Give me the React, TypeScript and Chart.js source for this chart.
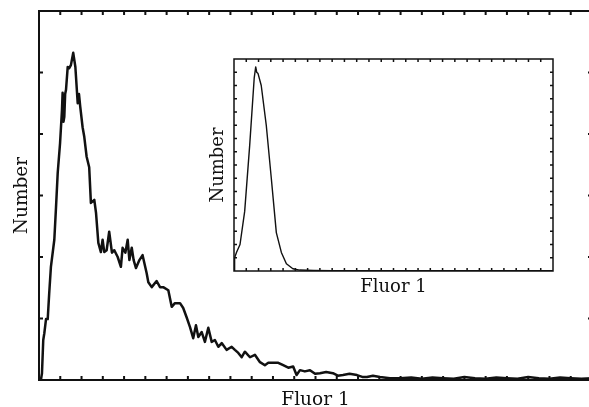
import React, { useEffect, useRef } from "react";
import { Chart, registerables } from "chart.js";

Chart.register(...registerables);

// ---- data ----
const mainFluor = [
  0, 0.9, 1.4, 2.0, 2.5, 3.3, 4.1, 4.8, 5.6, 7.2,
  8.0, 8.8, 9.9, 10.8, 11.1, 11.5, 11.9, 12.3, 12.7, 13.5,
  14.2, 15.0, 16.1, 17.1, 18.2, 18.8, 19.4, 20.5, 21.3, 22.4,
  23.6, 24.4, 26.0, 26.8, 27.9, 29.1, 29.9, 30.7, 31.8, 33.0,
  34.3, 35.4, 37.0, 38.5, 39.3, 40.6, 41.7, 42.5, 43.6, 44.5,
  45.6, 47.2, 48.7, 50.6, 51.4, 53.0, 55.3, 56.9, 58.4, 60.8,
  62.4, 63.9, 66.3, 67.8, 69.4, 71.0, 72.5, 73.8, 74.9, 76.5,
  78.0, 79.6, 81.2, 82.7, 84.3, 85.9, 88.2, 90.6, 92.1, 93.7,
  95.3, 96.8, 99.2, 101.5, 103.9, 106.2, 107.8, 110.1, 112.5, 114.8,
  117.2, 119.5, 121.1, 122.7, 125.0, 127.4, 129.8, 132.1, 135.0, 138.2,
  140.5, 142.9, 146.0, 149.5, 152.0, 154.2, 157.0, 160.3, 165.0, 169.7,
  175, 180, 185, 190, 195, 200, 205, 210, 215, 220,
  225, 230, 235, 240, 245, 250, 255, 260,
];
const mainCount = [
  0, 0, 11, 65, 76, 99, 99, 141, 184, 228,
  281, 337, 385, 439, 467, 420, 428, 465, 472, 509,
  507, 512, 532, 509, 450, 465, 444, 411, 395, 363,
  346, 288, 293, 272, 223, 208, 228, 208, 211, 241,
  207, 211, 200, 184, 215, 207, 228, 195, 215, 195,
  182, 195, 203, 174, 159, 151, 161, 151, 151, 146,
  119, 125, 125, 117, 102, 86, 68, 89, 70, 78,
  62, 85, 62, 65, 54, 60, 49, 54, 49, 44,
  37, 46, 37, 41, 29, 24, 28, 28, 28, 24,
  20, 22, 8, 16, 14, 16, 10, 11, 13, 11,
  7, 8, 10, 8, 5, 5, 7, 5, 3, 3,
  4, 2, 4, 3, 2, 5, 3, 2, 4, 3,
  2, 5, 3, 2, 4, 3, 2, 3,
];
const insetFluor = [0, 0.5, 2, 4.9, 8.7, 12.8, 16.5, 17.7, 18.5, 19.6, 22.2, 26.3, 30.4, 34.5, 38.6, 42.7, 48, 53.5, 65, 80, 100, 260];
const insetCount = [0, 10, 14, 20, 45, 95, 146, 154, 150, 149, 140, 110, 70, 29, 14, 5.5, 1.7, 0.7, 0.4, 0.3, 0.3, 0.3];

const xTicks = [0, 10, 20, 30, 40, 50, 60, 70, 80, 90, 100, 110, 120, 130, 140, 150, 160, 170, 180, 190, 200, 210, 220, 230, 240, 250, 260];
const mainYTicks = [0, 100, 200, 300, 400, 500, 600];
const insetYTicks = [0, 10, 20, 30, 40, 50, 60, 70, 80, 90, 100, 110, 120, 130, 140, 150, 160];
const xLabel = "Fluor 1";
const yLabel = "Number";

const FONT = '"DejaVu Serif", "Liberation Serif", serif';
const INK = "#111";

type FrameCfg = {
  frameWidth: number;
  tickLen: number;
  tickWidth: number;
  xTicks: number[];
  yTicks: number[];
  fontSize: number;
  xLabelBaseline: number;
  yLabelBaseline: number;
};

function framePlugin(cfg: FrameCfg) {
  return {
    id: "frame",
    afterDatasetsDraw(chart: any) {
      const { ctx, chartArea } = chart;
      const { left, top, right, bottom } = chartArea;
      const xs = chart.scales.x;
      const ys = chart.scales.y;
      ctx.save();
      ctx.strokeStyle = INK;
      ctx.lineWidth = cfg.frameWidth;
      ctx.strokeRect(left, top, right - left, bottom - top);
      ctx.lineWidth = cfg.tickWidth;
      ctx.beginPath();
      const xMin = xs.min, xMax = xs.max, yMin = ys.min, yMax = ys.max;
      cfg.xTicks.forEach((v) => {
        if (v <= xMin || v >= xMax) return;
        const px = xs.getPixelForValue(v);
        ctx.moveTo(px, top);
        ctx.lineTo(px, top + cfg.tickLen);
        ctx.moveTo(px, bottom);
        ctx.lineTo(px, bottom - cfg.tickLen);
      });
      cfg.yTicks.forEach((v) => {
        if (v <= yMin || v >= yMax) return;
        const py = ys.getPixelForValue(v);
        ctx.moveTo(left, py);
        ctx.lineTo(left + cfg.tickLen, py);
        ctx.moveTo(right, py);
        ctx.lineTo(right - cfg.tickLen, py);
      });
      ctx.stroke();

      ctx.fillStyle = INK;
      ctx.font = `${cfg.fontSize}px ${FONT}`;
      ctx.textAlign = "center";
      ctx.textBaseline = "alphabetic";
      ctx.fillText(xLabel, (left + right) / 2, cfg.xLabelBaseline);
      ctx.translate(cfg.yLabelBaseline, (top + bottom) / 2);
      ctx.rotate(-Math.PI / 2);
      ctx.fillText(yLabel, 0, 0);
      ctx.restore();
    },
  };
}

function makeChart(
  canvas: HTMLCanvasElement,
  xs: number[],
  ys: number[],
  yMax: number,
  lineWidth: number,
  padding: { left: number; top: number; right: number; bottom: number },
  cfg: FrameCfg
) {
  const data = xs.map((x, i) => ({ x, y: ys[i] }));
  return new Chart(canvas, {
    type: "line",
    data: {
      datasets: [
        {
          data,
          borderColor: INK,
          borderWidth: lineWidth,
          pointRadius: 0,
          tension: 0,
          fill: false,
          borderJoinStyle: "round",
        },
      ],
    },
    options: {
      animation: false,
      responsive: false,
      maintainAspectRatio: false,
      layout: { padding },
      plugins: { legend: { display: false }, tooltip: { enabled: false } },
      scales: {
        x: { type: "linear", min: 0, max: 260, display: false },
        y: { type: "linear", min: 0, max: yMax, display: false },
      },
    },
    plugins: [framePlugin(cfg)],
  } as any);
}

export default function App() {
  const mainRef = useRef<HTMLCanvasElement>(null);
  const insetRef = useRef<HTMLCanvasElement>(null);

  useEffect(() => {
    const main = makeChart(
      mainRef.current!,
      mainFluor,
      mainCount,
      600,
      2.5,
      { left: 39, top: 11, right: 8, bottom: 27 },
      {
        frameWidth: 2,
        tickLen: 4,
        tickWidth: 2,
        xTicks,
        yTicks: mainYTicks,
        fontSize: 18.5,
        xLabelBaseline: 405,
        yLabelBaseline: 27,
      }
    );
    const inset = makeChart(
      insetRef.current!,
      insetFluor,
      insetCount,
      160,
      1.4,
      { left: 39, top: 9, right: 7, bottom: 29 },
      {
        frameWidth: 1.5,
        tickLen: 3,
        tickWidth: 1.5,
        xTicks,
        yTicks: insetYTicks,
        fontSize: 18,
        xLabelBaseline: 242,
        yLabelBaseline: 28,
      }
    );
    return () => {
      main.destroy();
      inset.destroy();
    };
  }, []);

  return (
    <div
      style={{
        position: "absolute",
        left: 0,
        top: 0,
        width: 589,
        height: 407,
        overflow: "hidden",
        background: "#fff",
      }}
    >
      <canvas ref={mainRef} width={600} height={407} style={{ position: "absolute", left: 0, top: 0 }} />
      <canvas ref={insetRef} width={365} height={250} style={{ position: "absolute", left: 195, top: 50 }} />
    </div>
  );
}
